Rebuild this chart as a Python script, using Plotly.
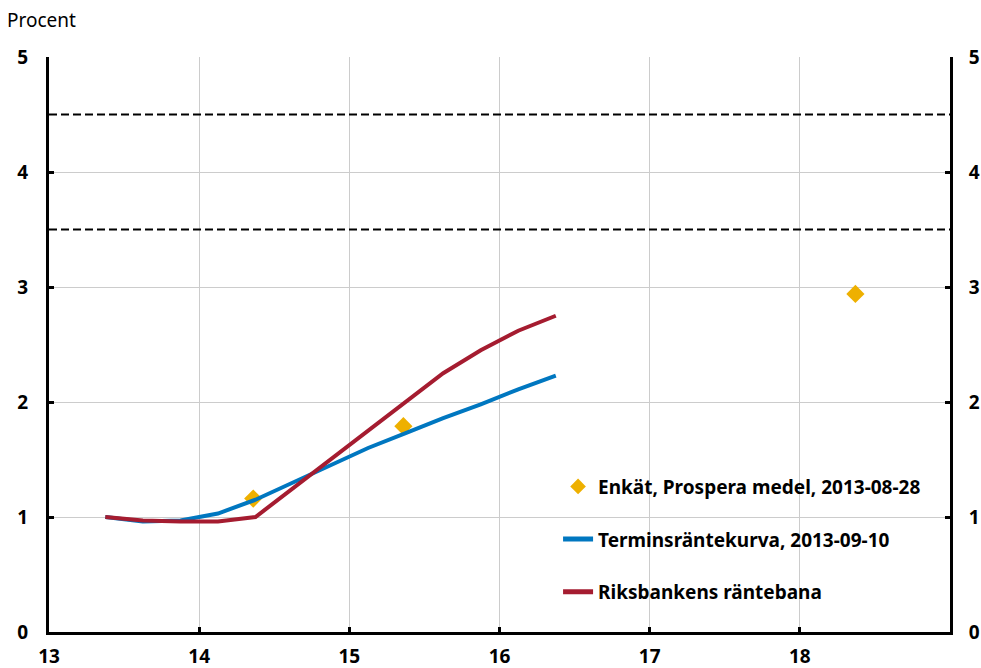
import plotly.graph_objects as go

# Data
quarters_x = [13.375, 13.625, 13.875, 14.125, 14.375, 14.625, 14.875,
              15.125, 15.375, 15.625, 15.875, 16.125, 16.375]
termin = [1.00, 0.96, 0.97, 1.03, 1.15, 1.30, 1.45, 1.60, 1.73, 1.86, 1.98, 2.11, 2.23]
riksbank = [1.00, 0.97, 0.96, 0.96, 1.00, 1.25, 1.50, 1.75, 2.00, 2.25, 2.45, 2.62, 2.75]
enkat_x = [14.36, 15.36, 18.37]
enkat_y = [1.16, 1.79, 2.94]
band_levels = [3.5, 4.5]
x_ticks = [13, 14, 15, 16, 17, 18]
y_ticks = [0, 1, 2, 3, 4, 5]

BLUE = "#0077C0"
RED = "#A51C30"
GOLD = "#EEB000"
FONT = "Noto Sans"

fig = go.Figure()

fig.add_trace(go.Scatter(
    x=enkat_x, y=enkat_y, mode="markers",
    marker=dict(symbol="diamond", size=14, color=GOLD),
    name="Enkät, Prospera medel, 2013-08-28", legendgroup="a",
))
fig.add_trace(go.Scatter(
    x=quarters_x, y=termin, mode="lines",
    line=dict(color=BLUE, width=4),
    name="Terminsräntekurva, 2013-09-10", legendgroup="b",
))
fig.add_trace(go.Scatter(
    x=quarters_x, y=riksbank, mode="lines",
    line=dict(color=RED, width=4),
    name="Riksbankens räntebana", legendgroup="c",
))

for lvl in band_levels:
    fig.add_shape(type="line", xref="paper", x0=0, x1=1, yref="y", y0=lvl, y1=lvl,
                  line=dict(color="black", width=2, dash="8px,4px"), layer="above")

axis_font = dict(family=FONT, size=19, color="black", weight="bold")

fig.update_layout(
    width=981, height=668,
    margin=dict(l=49, r=31, t=57, b=36),
    paper_bgcolor="white", plot_bgcolor="white",
    font=dict(family=FONT, color="black"),
    showlegend=True,
    legend=dict(
        x=0.565, y=0.286, xanchor="left", yanchor="top",
        bgcolor="rgba(0,0,0,0)",
        font=dict(family=FONT, size=19, color="black", weight="bold"),
        tracegroupgap=25, itemwidth=30, itemsizing="constant",
    ),
    xaxis=dict(
        range=[13, 19], tickvals=x_ticks, ticktext=[str(v) for v in x_ticks],
        showgrid=True, gridcolor="#CCCCCC", gridwidth=1,
        showline=True, linecolor="black", linewidth=3,
        ticks="inside", ticklen=5, tickwidth=3, tickcolor="black",
        tickfont=axis_font, zeroline=False, ticklabelstandoff=5,
        automargin=False,
    ),
    yaxis=dict(
        range=[0, 5], tickvals=y_ticks,
        showgrid=True, gridcolor="#CCCCCC", gridwidth=1,
        showline=True, linecolor="black", linewidth=3,
        ticks="inside", ticklen=5, tickwidth=3, tickcolor="black",
        tickfont=axis_font, zeroline=False, ticklabelstandoff=14,
        automargin=False,
    ),
    yaxis2=dict(
        range=[0, 5], tickvals=y_ticks, overlaying="y", side="right",
        showgrid=False,
        showline=True, linecolor="black", linewidth=3,
        ticks="inside", ticklen=5, tickwidth=3, tickcolor="black",
        tickfont=axis_font, zeroline=False, ticklabelstandoff=12,
        automargin=False,
    ),
    annotations=[dict(
        text="Procent", xref="paper", yref="paper", x=0, y=1.0,
        xshift=-44, yshift=37, xanchor="left", yanchor="middle", showarrow=False,
        font=dict(family=FONT, size=19, color="black"),
    )],
)

# invisible trace to anchor the right axis
fig.add_trace(go.Scatter(x=[13], y=[0], yaxis="y2", mode="markers",
                         marker=dict(opacity=0), showlegend=False, hoverinfo="skip"))

fig.write_html("out.html", config={"displayModeBar": False},
               post_script="document.body.style.margin='0';")
